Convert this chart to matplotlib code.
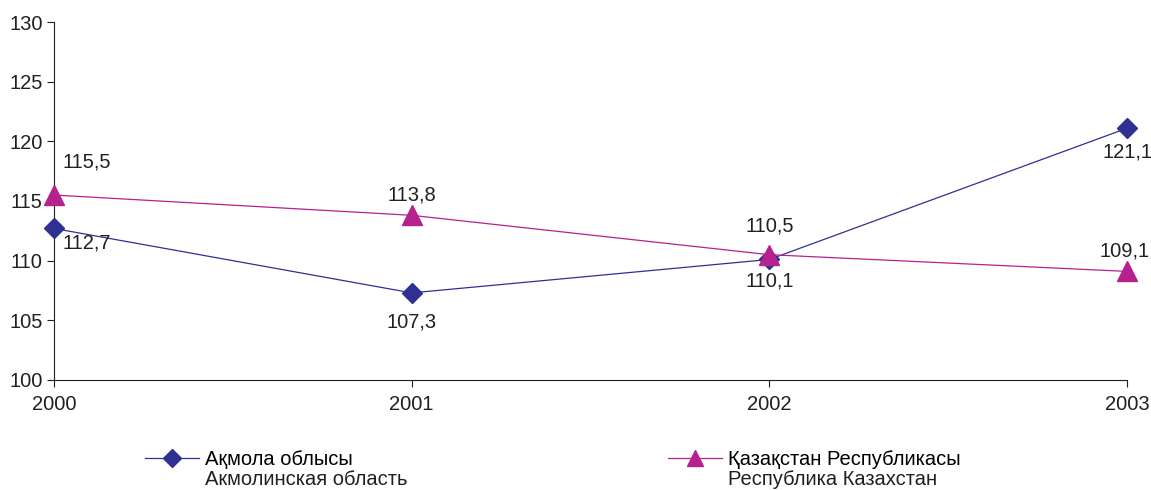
import matplotlib
matplotlib.use('Agg')
import matplotlib.pyplot as plt

plt.rcParams['font.family'] = ['Liberation Sans', 'DejaVu Sans']

years = [2000, 2001, 2002, 2003]
akmola = [112.7, 107.3, 110.1, 121.1]
kazakhstan = [115.5, 113.8, 110.5, 109.1]
nazvanie_akmola = ['Ақмола облысы', 'Акмолинская область']
nazvanie_kz = ['Қазақстан Республикасы', 'Республика Казахстан']

sinij = '#2e3192'
rozovyj = '#b5228e'
fs = 14.5

fig = plt.figure(figsize=(11.51, 4.9), dpi=100)
ax = fig.add_axes([0.0469, 0.2245, 0.9323, 0.7306])

x = list(range(len(years)))
l1, = ax.plot(x, akmola, color=sinij, lw=0.9, marker='D', ms=10, zorder=3)
l2, = ax.plot(x, kazakhstan, color=rozovyj, lw=0.9, marker='^', ms=15, zorder=4)

def fmt(v):
    return f'{v:.1f}'.replace('.', ',')

# смещения подписей (в пунктах)
sdvig_akmola = [(6, -4), (0, -14), (0, -9), (0, -10)]
sdvig_kz = [(6, 17), (0, 8), (0, 14), (-2, 8)]
for i, v in enumerate(akmola):
    dx, dy = sdvig_akmola[i]
    ax.annotate(fmt(v), (i, v), xytext=(dx, dy), textcoords='offset points',
                ha='left' if i == 0 else 'center', va='top', fontsize=fs, color='#231f20')
for i, v in enumerate(kazakhstan):
    dx, dy = sdvig_kz[i]
    ax.annotate(fmt(v), (i, v), xytext=(dx, dy), textcoords='offset points',
                ha='left' if i == 0 else 'center', va='bottom', fontsize=fs, color='#231f20')

ax.set_xlim(0, 3)
ax.set_ylim(100, 130)
ax.set_yticks(range(100, 131, 5))
ax.set_xticks(x)
ax.set_xticklabels([str(y) for y in years])
ax.tick_params(axis='both', labelsize=fs, direction='out', length=5, width=0.8,
               colors='#231f20')
ax.tick_params(axis='x', pad=6)
ax.tick_params(axis='y', pad=3)
ax.spines['top'].set_visible(False)
ax.spines['right'].set_visible(False)
for s in ['left', 'bottom']:
    ax.spines[s].set_color('#231f20')
    ax.spines[s].set_linewidth(0.8)
for ln in ax.lines:
    ln.set_clip_on(False)

legendy = []
for linija, nazv, xpos in [(l1, nazvanie_akmola, 145 / 1151), (l2, nazvanie_kz, 668 / 1151)]:
    leg = fig.legend([linija], [nazv[0]], loc='upper left', bbox_to_anchor=(xpos, 0.081),
                     frameon=False, fontsize=fs, handlelength=2.7, handletextpad=0.3,
                     borderpad=0, borderaxespad=0)
    h = leg.legend_handles[0]
    h.set_markersize(9 if h.get_marker() == 'D' else 12)
    legendy.append((leg, nazv[1]))

fig.canvas.draw()
r = fig.canvas.get_renderer()
for leg, vtoroe in legendy:
    t = leg.get_texts()[0]
    bb = t.get_window_extent(r).transformed(fig.transFigure.inverted())
    fig.text(bb.x0, bb.y0 - 0.002, vtoroe, fontsize=fs, ha='left', va='top', color='#231f20')

fig.savefig('out.png', dpi=100)
